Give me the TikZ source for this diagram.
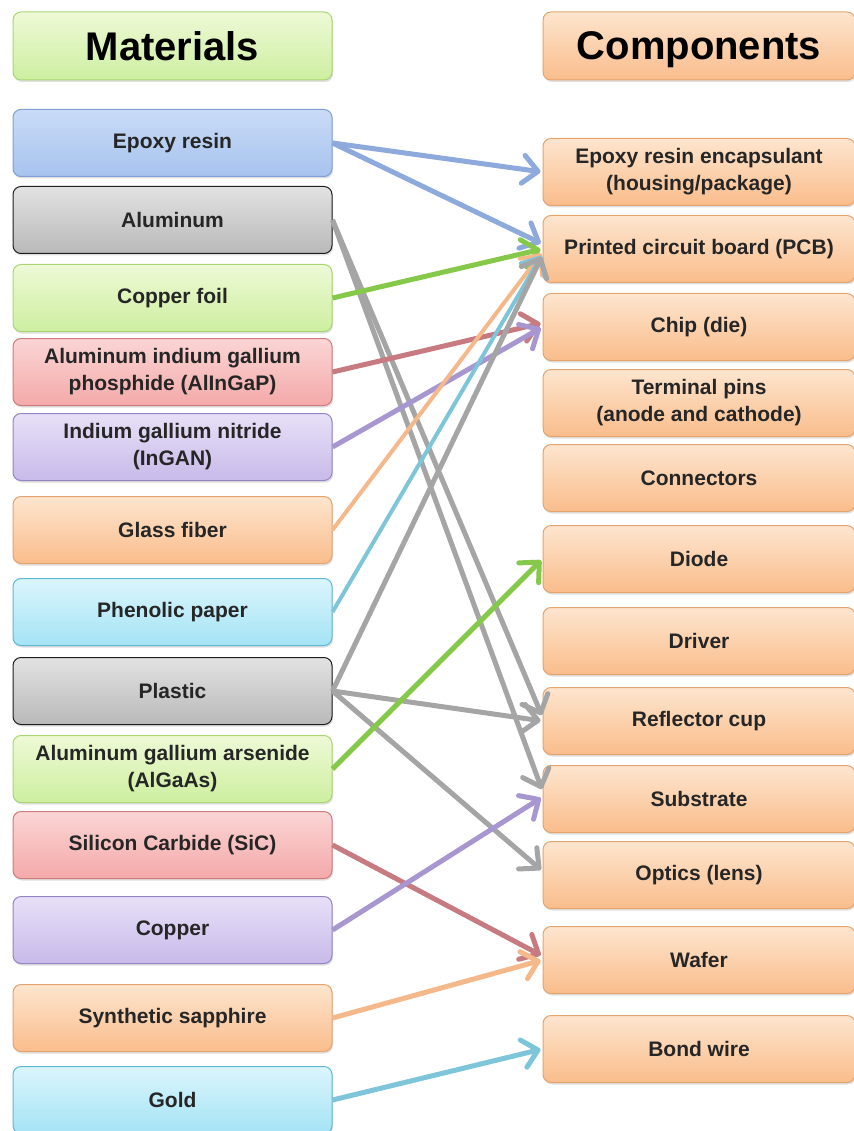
\documentclass[tikz,border=0pt]{standalone}
\usepackage{fontspec}
\setmainfont{Liberation Sans}
\usepackage{xcolor}
\usetikzlibrary{arrows.meta, shadows}

\definecolor{blutop}{HTML}{C9DBF7}\definecolor{blubot}{HTML}{A7C3EE}
\definecolor{bluline}{HTML}{7F9ED6}\definecolor{bluarw}{HTML}{8EA9DB}
\definecolor{grytop}{HTML}{E2E2E2}\definecolor{grybot}{HTML}{B9B9B9}
\definecolor{gryline}{HTML}{1E1E1E}\definecolor{gryarw}{HTML}{A5A5A5}
\definecolor{grntop}{HTML}{EEF9D6}\definecolor{grnbot}{HTML}{CDEFA0}
\definecolor{grnline}{HTML}{A9D572}\definecolor{grnarw}{HTML}{86C94A}
\definecolor{redtop}{HTML}{FBD5D5}\definecolor{redbot}{HTML}{F4A9A9}
\definecolor{redline}{HTML}{CF7B7B}\definecolor{redarw}{HTML}{C77A80}
\definecolor{purtop}{HTML}{E8E0F7}\definecolor{purbot}{HTML}{C8BAEA}
\definecolor{purline}{HTML}{9484C4}\definecolor{purarw}{HTML}{A796CF}
\definecolor{orgtop}{HTML}{FDE5CE}\definecolor{orgbot}{HTML}{FABD8C}
\definecolor{orgline}{HTML}{E3A46E}\definecolor{orgarw}{HTML}{F5B88A}
\definecolor{cyatop}{HTML}{DBF6FC}\definecolor{cyabot}{HTML}{A4E3F5}
\definecolor{cyaline}{HTML}{5DB9D3}\definecolor{cyaarw}{HTML}{7EC5DA}
\definecolor{txt}{HTML}{262626}

\begin{document}
\begin{tikzpicture}[x=1pt, y=-1pt,
    matbox/.style={rectangle, rounded corners=8pt, line width=1pt, draw=#1line,
          top color=#1top, bottom color=#1bot, minimum width=319pt, minimum height=67pt,
          align=center, text=txt, font=\fontsize{21}{27}\selectfont\bfseries,
          drop shadow={opacity=0.25, shadow xshift=1pt, shadow yshift=-2pt}},
    partbox/.style={matbox=org, minimum width=312pt},
    headfont/.style={font=\fontsize{40}{44}\selectfont\bfseries, text=black,
          text depth=0pt, minimum height=68pt},
    link/.style={draw=#1arw, line width=5pt, -{Straight Barb[length=15pt,width=28pt,round]}, shorten >=2pt}]
    \useasboundingbox (0,0) rectangle (853,1131);

    % headers
    \node[matbox=grn, headfont] (mathead) at (172.5,46) {Materials};
    \node[partbox, headfont] (comphead) at (699,46) {Components};

    % materials
    \node[matbox=blu] (epoxy) at (172.5,143) {Epoxy resin};
    \node[matbox=gry] (alu) at (172.5,220) {Aluminum};
    \node[matbox=grn] (cufoil) at (172.5,298) {Copper foil};
    \node[matbox=red] (alingap) at (172.5,372) {Aluminum indium gallium\\phosphide (AlInGaP)};
    \node[matbox=pur] (ingan) at (172.5,447) {Indium gallium nitride\\(InGAN)};
    \node[matbox=org] (glass) at (172.5,530) {Glass fiber};
    \node[matbox=cya] (phenolic) at (172.5,612) {Phenolic paper};
    \node[matbox=gry] (plastic) at (172.5,691) {Plastic};
    \node[matbox=grn] (algaas) at (172.5,769) {Aluminum gallium arsenide\\(AlGaAs)};
    \node[matbox=red] (sic) at (172.5,845) {Silicon Carbide (SiC)};
    \node[matbox=pur] (copper) at (172.5,930) {Copper};
    \node[matbox=org] (sapphire) at (172.5,1018) {Synthetic sapphire};
    \node[matbox=cya] (gold) at (172.5,1100) {Gold};

    % components
    \node[partbox] (encaps) at (699,172) {Epoxy resin encapsulant\\(housing/package)};
    \node[partbox] (pcb) at (699,249) {Printed circuit board (PCB)};
    \node[partbox] (chip) at (699,327) {Chip (die)};
    \node[partbox] (pins) at (699,403) {Terminal pins\\(anode and cathode)};
    \node[partbox] (connectors) at (699,478) {Connectors};
    \node[partbox] (diode) at (699,559) {Diode};
    \node[partbox] (driver) at (699,641) {Driver};
    \node[partbox] (reflector) at (699,721) {Reflector cup};
    \node[partbox] (substrate) at (699,799) {Substrate};
    \node[partbox] (optics) at (699,875) {Optics (lens)};
    \node[partbox] (wafer) at (699,960) {Wafer};
    \node[partbox] (bondwire) at (699,1049) {Bond wire};

    % links
    \draw[link=blu] (epoxy.east) -- (encaps.west);
    \draw[link=blu] (epoxy.east) -- ([yshift=5pt]pcb.west);
    \draw[link=gry] (alu.east) -- ([yshift=4pt]reflector.west);
    \draw[link=gry] (alu.east) -- ([yshift=8pt]substrate.west);
    \draw[link=grn] (cufoil.east) -- (pcb.west);
    \draw[link=red] (alingap.east) -- ([yshift=4pt]chip.west);
    \draw[link=pur] (ingan.east) -- (chip.west);
    \draw[link=org, line width=4pt] (glass.east) -- ([yshift=-3pt]pcb.west);
    \draw[link=cya, line width=4pt] (phenolic.east) -- ([yshift=-5pt]pcb.west);
    \draw[link=gry] (plastic.east) -- ([yshift=-6pt]pcb.west);
    \draw[link=gry] (plastic.east) -- (reflector.west);
    \draw[link=gry] (plastic.east) -- ([yshift=4pt]optics.west);
    \draw[link=grn] (algaas.east) -- (diode.west);
    \draw[link=red] (sic.east) -- ([yshift=4pt]wafer.west);
    \draw[link=pur] (copper.east) -- ([yshift=2pt]substrate.west);
    \draw[link=org] (sapphire.east) -- (wafer.west);
    \draw[link=cya] (gold.east) -- (bondwire.west);
\end{tikzpicture}
\end{document}
